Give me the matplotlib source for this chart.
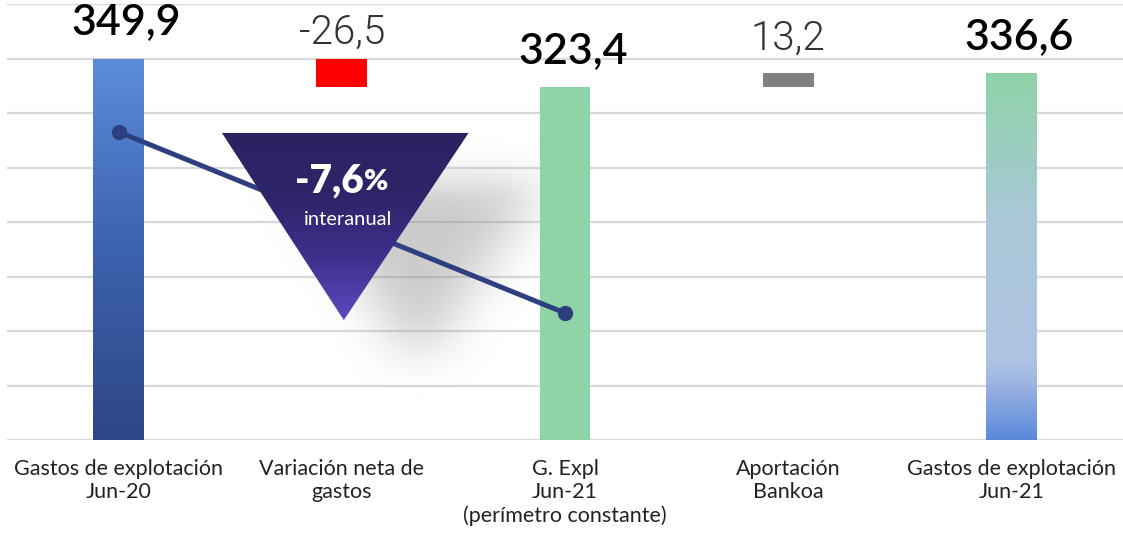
import numpy as np
import matplotlib
matplotlib.use("Agg")
import matplotlib.pyplot as plt
from matplotlib.colors import LinearSegmentedColormap
from matplotlib.patches import Polygon
from matplotlib.path import Path

plt.rcParams['font.family'] = ['Lato', 'DejaVu Sans']

categories = ["Gastos de explotación\nJun-20", "Variación neta de\ngastos",
              "G. Expl\nJun-21\n(perímetro constante)", "Aportación\nBankoa",
              "Gastos de explotación\nJun-21"]
values = [349.9, -26.5, 323.4, 13.2, 336.6]
value_labels = ["349,9", "-26,5", "323,4", "13,2", "336,6"]
is_total = [True, False, True, False, True]
trend_x = [0, 2]
trend_y = [282.6, 116.5]
badge_text = "-7,6"
badge_sub = "interanual"

fig = plt.figure(figsize=(11.23, 5.33), dpi=100)
ax = fig.add_axes([7/1123, (533-440)/533, 1116/1123, 436/533])
ax.set_xlim(-0.5, 4.5)
ax.set_ylim(0, 400)
ax.set_axis_off()
for g in range(0, 401, 50):
    ax.axhline(g, color='#d9d9d9', lw=1.6, zorder=0)

# waterfall geometry
bottoms, heights = [], []
running = 0
for v, t in zip(values, is_total):
    if t:
        bottoms.append(0); heights.append(v); running = v
    else:
        if v < 0:
            bottoms.append(running + v); heights.append(-v)
        else:
            bottoms.append(running); heights.append(v)
        running += v

colors = ['#5b8ddc', '#ff0000', '#8fd3a8', '#808080', '#8fd3a8']
x = np.arange(len(values))
w = 0.228
bars = ax.bar(x, heights, bottom=bottoms, width=w, color=colors, zorder=2, linewidth=0)

def grad_fill(bar, cmap):
    x0, y0 = bar.get_x(), bar.get_y()
    x1, y1 = x0 + bar.get_width(), y0 + bar.get_height()
    grad = np.linspace(0, 1, 256).reshape(-1, 1)
    im = ax.imshow(grad, cmap=cmap, extent=[x0, x1, y0, y1], origin='lower',
                   aspect='auto', zorder=2.1)
    im.set_clip_path(bar)

cm1 = LinearSegmentedColormap.from_list('b1', ['#2d4686', '#3d62ae', '#5b8ddc'])
cm5 = LinearSegmentedColormap.from_list('b5', [(0, '#5b88dc'), (0.15, '#9bb4e2'),
                                               (0.22, '#b0c4e2'), (0.6, '#a9c8d8'),
                                               (1, '#8fd3a8')])
grad_fill(bars[0], cm1)
grad_fill(bars[4], cm5)
ax.set_xlim(-0.5, 4.5); ax.set_ylim(0, 400)

# value labels
for i, (lab, t) in enumerate(zip(value_labels, is_total)):
    top = bottoms[i] + heights[i]
    if t:
        ax.annotate(lab, (x[i] + 0.035, top), xytext=(0, 26), textcoords='offset points',
                    ha='center', va='center', fontsize=31, fontweight='semibold',
                    color='black')
    else:
        ax.annotate(lab, (x[i], top), xytext=(0, 19 if values[i] < 0 else 25),
                    textcoords='offset points', ha='center', va='center',
                    fontsize=29, fontweight=300, family=['Roboto', 'DejaVu Sans'],
                    color='#333333')

# category labels
for i, c in enumerate(categories):
    ax.text(x[i], -17, c, ha='center', va='top', fontsize=15.5, color='#222222',
            linespacing=1.22)

# trend line
ax.plot(trend_x, trend_y, color='#2e3f7f', lw=3.6, marker='o', markersize=10,
        zorder=3, solid_capstyle='round')

# shadow (blurred offset triangle)
tri = np.array([[0.463, 281.7], [1.568, 281.7], [1.009, 110.0]])
sx = np.linspace(0.3, 2.3, 300)
sy = np.linspace(30, 320, 300)
XX, YY = np.meshgrid(sx, sy)
sh = tri + np.array([0.33, -45])
mask = Path(sh).contains_points(np.c_[XX.ravel(), YY.ravel()]).reshape(XX.shape).astype(float)
k = 35
ker = np.ones(k) / k
for _ in range(3):
    mask = np.apply_along_axis(lambda r: np.convolve(r, ker, mode='same'), 1, mask)
    mask = np.apply_along_axis(lambda r: np.convolve(r, ker, mode='same'), 0, mask)
rgba = np.zeros(mask.shape + (4,))
rgba[..., :3] = 0.55
rgba[..., 3] = mask * 0.45
ax.imshow(rgba, extent=[sx[0], sx[-1], sy[0], sy[-1]], origin='lower', aspect='auto',
          zorder=1.5, interpolation='bilinear')

# triangle badge with gradient
poly = Polygon(tri, closed=True, facecolor='none', edgecolor='none', zorder=4)
ax.add_patch(poly)
cmt = LinearSegmentedColormap.from_list('t', ['#5e48c0', '#3f2f8c', '#2e2468', '#2c2262'])
grad = np.linspace(0, 1, 256).reshape(-1, 1)
imt = ax.imshow(grad, cmap=cmt, extent=[0.46, 1.57, 110, 281.7], origin='lower',
                aspect='auto', zorder=4)
imt.set_clip_path(poly)
ax.set_xlim(-0.5, 4.5); ax.set_ylim(0, 400)

ax.text(1.1, 238, badge_text, ha='right', va='center', fontsize=28, fontweight='heavy',
        color='white', zorder=5)
ax.text(1.1, 237, "%", ha='left', va='center', fontsize=21, fontweight='heavy',
        color='white', zorder=5)
ax.text(1.03, 202, badge_sub, ha='center', va='center', fontsize=14.5, fontweight='normal',
        color='white', zorder=5)

fig.savefig('out.png', dpi=100)
